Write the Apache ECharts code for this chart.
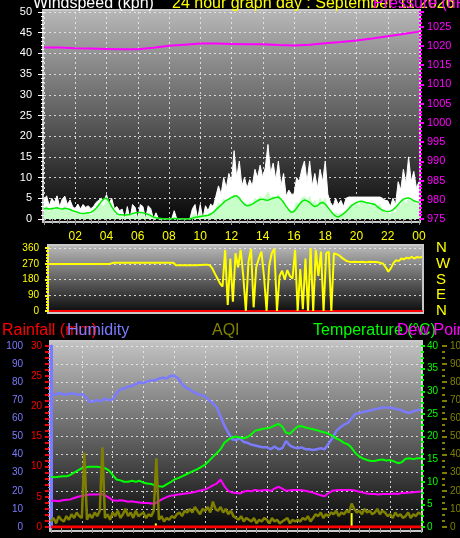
<!DOCTYPE html>
<html><head><meta charset="utf-8">
<script src="https://cdn.jsdelivr.net/npm/echarts@6/dist/echarts.min.js"></script>
<style>html,body{margin:0;padding:0;background:#000;overflow:hidden}#c{width:460px;height:538px}</style>
</head><body><div id="c"></div>
<script>
// ---------- DATA ----------
// hour tick labels (for x = 0,2,...,24)
const hourLabels = ['00','02','04','06','08','10','12','14','16','18','20','22','00'];
// wind direction tick labels
const dirTicks = [0, 90, 180, 270, 360];
const dirLetters = ['N', 'E', 'S', 'W', 'N'];

// Wind gust (kph), every 10 minutes, 00:00 -> 24:00
const windGust = [
  4.5, 5.6, 3.2, 5.0, 4.0, 5.6,
  3.0, 4.8, 5.5, 3.5, 4.6, 3.0,
  2.5, 3.6, 2.4, 3.5, 2.8, 3.2,
  2.5, 3.0, 4.0, 4.5, 5.0, 4.3,
  5.9, 3.8, 5.0, 2.5, 3.0, 2.0,
  2.4, 0, 3.0, 0, 3.5, 2.8,
  0, 3.5, 3.0, 0, 3.2, 2.5,
  0, 1.5, 0, 0, 0, 0,
  0, 0, 2.0, 0, 0, 0,
  0, 0, 0, 2.5, 3.5, 0,
  3.5, 0, 3.2, 2.0, 3.6, 3.0,
  5.5, 8.0, 6.0, 10.0, 7.5, 11.0,
  9.0, 16.5, 10.0, 14.0, 8.0, 10.0,
  7.5, 9.5, 8.0, 12.0, 10.0, 13.0,
  10.0, 12.5, 18.0, 11.0, 13.5, 9.5,
  14.0, 8.0, 11.0, 5.5, 7.0, 6.0,
  6.0, 10.0, 9.0, 12.0, 14.0, 9.0,
  14.0, 8.0, 11.0, 7.5, 12.0, 9.0,
  14.0, 6.0, 4.0, 3.0, 5.0, 3.5,
  4.5, 3.0, 5.0, 5.3, 5.3, 5.3,
  5.3, 5.3, 5.3, 5.3, 5.3, 5.3,
  5.3, 5.3, 5.3, 5.3, 5.0, 4.5,
  4.4, 3.0, 5.0, 3.5, 9.0, 7.0,
  12.0, 8.5, 15.0, 9.0, 11.5, 7.5,
  9.0
];
// Wind speed (kph), every 10 minutes
const windSpeed = [
  2.5, 3.1, 1.5, 2.8, 2.0, 3.0,
  1.8, 2.5, 3.0, 2.0, 2.6, 1.5,
  1.2, 2.0, 0.8, 1.8, 1.2, 1.5,
  1.0, 1.5, 2.5, 3.0, 3.5, 3.0,
  4.5, 3.5, 3.0, 1.0, 1.2, 0.5,
  0.8, 0, 1.5, 0, 1.6, 1.0,
  0, 1.5, 1.2, 0, 1.5, 1.0,
  0, 0.5, 0, 0, 0, 0,
  0, 0, 0.5, 0, 0, 0,
  0, 0, 0, 1.0, 1.2, 0,
  1.5, 0, 1.0, 0.8, 1.5, 1.2,
  2.5, 4.0, 3.0, 5.0, 3.5, 5.0,
  4.5, 6.0, 5.0, 5.5, 3.5, 4.0,
  3.0, 4.0, 3.5, 5.0, 4.5, 5.5,
  4.5, 5.5, 6.5, 5.0, 5.5, 4.5,
  6.0, 4.0, 4.5, 2.0, 2.5, 1.5,
  2.5, 4.0, 3.5, 5.0, 5.5, 4.0,
  5.5, 3.5, 4.5, 3.0, 5.0, 4.0,
  5.0, 2.0, 1.5, 0.8, 1.5, 1.0,
  1.5, 1.0, 2.0, 2.5, 3.5, 3.0,
  4.0, 3.0, 4.5, 3.5, 4.0, 3.0,
  3.5, 4.0, 3.0, 3.5, 2.0, 1.5,
  1.5, 1.0, 2.0, 1.2, 3.5, 3.0,
  4.5, 3.5, 5.0, 4.0, 4.5, 3.5,
  4.0
];
// Average wind speed (kph), every 10 minutes
const windAvg = [
  2.5, 2.6, 2.4, 2.5, 2.6, 2.7,
  2.5, 2.4, 2.6, 2.5, 2.3, 2.0,
  1.8, 1.6, 1.4, 1.3, 1.4, 1.5,
  1.6, 2.0, 2.6, 3.4, 4.2, 4.9,
  5.0, 4.2, 3.0, 2.0, 1.3, 1.0,
  1.0, 0.9, 1.0, 1.1, 1.3, 1.5,
  1.5, 1.6, 1.5, 1.3, 1.1, 0.8,
  0.5, 0.3, 0.2, 0.1, 0, 0,
  0, 0, 0.1, 0.1, 0, 0,
  0, 0, 0, 0.2, 0.4, 0.5,
  0.6, 0.7, 0.8, 0.9, 1.2, 1.6,
  2.2, 2.8, 3.4, 4.0, 4.5, 4.8,
  5.2, 5.5, 5.6, 5.0, 4.2, 3.5,
  3.2, 3.3, 3.6, 4.0, 4.4, 4.7,
  4.8, 4.6, 4.5, 4.8, 5.0, 5.2,
  5.3, 4.8, 4.0, 3.0, 2.2, 1.6,
  1.8, 2.6, 3.5, 4.2, 4.6, 4.4,
  4.0, 3.4, 3.0, 3.2, 3.8, 4.0,
  3.6, 2.8, 2.0, 1.2, 0.7, 0.5,
  0.8, 1.3, 1.8, 2.5, 3.2, 3.6,
  4.0, 4.2, 4.3, 4.1, 3.9, 3.8,
  3.7, 3.5, 3.0, 2.5, 2.1, 1.9,
  1.8, 1.9, 2.2, 2.8, 3.5, 4.2,
  4.8, 5.0, 5.1, 4.8, 4.4, 4.2,
  4.0
];
// Pressure (hPa), hourly
const pressure = [
  1019.6, 1019.6, 1019.4, 1019.3, 1019.2, 1019.1, 1019.1, 1019.5,
  1020.0, 1020.3, 1020.6, 1020.6, 1020.5, 1020.4, 1020.4, 1020.2,
  1020.1, 1020.3, 1020.7, 1021.0, 1021.4, 1021.9, 1022.5, 1023.1, 1023.7
];
// Wind direction (degrees), every 10 minutes
const windDir = [
  268, 268, 268, 268, 268, 268,
  268, 268, 268, 268, 268, 268,
  268, 268, 268, 268, 268, 268,
  268, 268, 268, 268, 268, 268,
  272, 276, 276, 276, 276, 276,
  276, 276, 276, 276, 276, 276,
  276, 276, 276, 276, 276, 276,
  276, 276, 276, 276, 276, 276,
  276, 262, 262, 262, 262, 262,
  262, 262, 262, 262, 263, 263,
  264, 265, 262, 245, 215, 187,
  158, 140, 349, 34, 300, 53,
  330, 250, 350, 200, 0, 280,
  355, 21, 250, 300, 340, 200,
  0, 260, 330, 355, 0, 200,
  230, 180, 234, 200, 185, 350,
  0, 240, 10, 300, 0, 360,
  0, 350, 200, 340, 0, 330,
  340, 0, 330, 325, 318, 305,
  295, 285, 282, 280, 282, 280,
  280, 281, 279, 280, 282, 280,
  280, 278, 275, 270, 250, 225,
  245, 275, 290, 285, 300, 295,
  305, 300, 310, 300, 308, 305,
  310
];
// Humidity (%), every 15 minutes
const humidity = [
  74, 73, 74, 73.5,   73, 74, 73.5, 73,   73.5, 72, 69, 69.5,   70, 69.5, 71, 70,
  70.5, 74, 76, 76.5, 77.5, 78, 79, 80,   79.5, 80.5, 81, 81,   82, 82.5, 82, 83.5,
  83.5, 82, 79, 77,   76, 74.5, 73.5, 73, 72, 70, 68.5, 66,     61, 56, 52, 48.5,
  48, 49, 47, 46.5,   45.5, 45, 44.5, 44, 44, 43, 44.5, 43,     43.5, 47.5, 45, 44,
  43.5, 44, 43, 43,   42.5, 43, 43.5, 43, 46, 49, 53, 55,       56.5, 57.5, 60, 62.5,
  63, 63.5, 64, 64.5, 65, 65.5, 66, 66,   66, 65.5, 65, 64.5,   63.5, 63, 64, 64.5,
  65
];
// Temperature (°C), every 15 minutes
const temperature = [
  11.1, 11.0, 11.1, 11.2,  11.2, 11.5, 12.0, 12.5,  13.0, 13.2, 13.3, 13.3,  13.3, 13.2, 13.0, 12.5,
  11.5, 10.5, 10.3, 10.0,  10.0, 10.2, 10.0, 10.2,  9.8, 9.6, 9.5, 9.2,      9.0, 8.9, 9.4, 9.9,
  10.5, 10.8, 11.2, 11.6,  12.0, 12.4, 12.8, 13.3,  13.8, 14.6, 15.5, 16.3,  17.2, 18.6, 19.3, 19.8,
  20.0, 19.8, 19.6, 19.9,  20.5, 21.3, 21.5, 21.7,  21.8, 22.0, 22.4, 22.8,  22.2, 20.8, 20.6, 21.5,
  22.2, 22.3, 22.0, 21.8,  21.6, 21.4, 21.1, 20.9,  20.6, 20.2, 19.6, 19.2,  18.6, 18.3, 17.5, 16.3,
  15.6, 15.1, 14.8, 14.6,  14.6, 14.8, 14.9, 14.7,  14.8, 14.5, 14.1, 14.3,  15.1, 15.2, 15.0, 15.2,
  15.2
];
// Dew point (°C), every 15 minutes
const dewPoint = [
  5.8, 5.8, 5.7, 5.9,  6.0, 6.1, 6.4, 6.7,  6.9, 7.0, 7.2, 7.2,  7.2, 7.3, 7.0, 6.5,
  5.9, 5.8, 5.9, 5.8,  5.6, 5.7, 5.5, 5.4,  5.3, 5.3, 5.2, 5.2,  5.7, 6.2, 6.6, 6.9,
  7.0, 7.2, 7.3, 7.4,  7.5, 7.7, 7.9, 8.1,  8.3, 8.7, 9.2, 9.6,  10.5, 9.0, 8.0, 7.6,
  7.5, 7.4, 7.8, 8.0,  7.9, 8.2, 8.0, 8.1,  8.2, 8.0, 8.5, 8.9,  8.5, 8.0, 8.1, 8.2,
  8.2, 8.1, 8.0, 7.8,  7.6, 7.3, 7.0, 6.8,  7.5, 8.0, 8.1, 8.2,  8.2, 8.2, 8.2, 8.0,
  7.8, 7.6, 7.4, 7.3,  7.3, 7.2, 7.3, 7.3,  7.3, 7.4, 7.3, 7.5,  7.5, 7.6, 7.7, 7.8,
  7.8
];
// AQI, every 10 minutes
const aqi = [
  3, 5, 2, 6, 4, 3,
  6, 4, 7, 5, 8, 6,
  5, 41, 4, 7, 5, 8,
  6, 9, 44, 5, 7, 4,
  8, 6, 9, 5, 7, 10,
  6, 8, 5, 9, 6, 7,
  8, 5, 7, 6, 9, 38,
  4, 6, 3, 5, 4, 6,
  5, 7, 8, 6, 9, 8,
  10, 8, 11, 9, 7, 10,
  9, 11, 8, 14, 10, 9,
  11, 8, 10, 7, 9, 6,
  5, 4, 6, 3, 5, 4,
  3, 5, 2, 4, 3, 5,
  4, 2, 5, 3, 4, 2,
  3, 4, 5, 2, 4, 3,
  4, 3, 5, 4, 6, 3,
  5, 7, 6, 8, 5, 7,
  6, 8, 7, 9, 6, 8,
  7, 9, 8, 13, 10, 8,
  9, 7, 10, 8, 9, 7,
  8, 10, 7, 9, 8, 6,
  7, 5, 8, 6, 7, 5,
  6, 8, 5, 7, 6, 8,
  7
];
// Rainfall (mm), hourly
const rainfall = [0,0,0,0,0,0,0,0,0,0,0,0,0,0,0,0,0,0,0,0,0,0,0,0,0];
// Short yellow rain marks
const rainMarkHours = [6.8, 19.5];
const rainMarkValues = [0.6, 2.3];

// ---------- CHART ----------
const FONT = '"Liberation Sans", Arial, sans-serif';
const P = (arr, perHour) => arr.map((v, i) => [i / perHour, v]);
const grad = (c0, c1) => new echarts.graphic.LinearGradient(0, 0, 0, 1, [{offset: 0, color: c0}, {offset: 1, color: c1}]);
const dash = {color: 'rgba(235,235,235,0.85)', width: 1, type: [2, 3]};
const plain = v => String(v);
const txt = (x, y, text, color) => ({type: 'text', x: x, y: y, z: 100,
  style: {text: text, fill: color, font: '16px ' + FONT, verticalAlign: 'middle', textVerticalAlign: 'middle'}});

const chart = echarts.init(document.getElementById('c'), null, {renderer: 'canvas'});
chart.setOption({
  backgroundColor: '#000',
  animation: false,
  textStyle: {fontFamily: FONT},
  graphic: [
    {type: 'rect', z: -10, shape: {x: 43, y: 10, width: 377, height: 212},
     style: {fill: grad('#b8b8b8', '#050505'), stroke: '#c8c8c8', lineWidth: 2}},
    {type: 'rect', z: -10, shape: {x: 48, y: 245, width: 375, height: 68},
     style: {fill: grad('#bdbdbd', '#070707'), stroke: '#c8c8c8', lineWidth: 2}},
    {type: 'rect', z: -10, shape: {x: 50, y: 341, width: 372, height: 190},
     style: {fill: grad('#c4c4c4', '#040404'), stroke: '#c8c8c8', lineWidth: 2}},
    txt(33, 4, 'Windspeed (kph)', '#ffffff'),
    txt(172, 4, '24 hour graph day : September 11 2026', '#ffff00'),
    txt(373, 4, 'Pressure (hPa)', '#ff00ff'),
    txt(2, 331, 'Rainfall (mm)', '#ff0000'),
    txt(67, 331, 'Humidity', '#7b7bff'),
    txt(212, 331, 'AQI', '#808000'),
    txt(313, 331, 'Temperature (°C)', '#00ff00'),
    txt(397, 331, 'Dew Point', '#ff00ff')
  ],
  grid: [
    {left: 44, top: 12, width: 375, height: 207, outerBoundsMode: 'none', containLabel: false},
    {left: 49, top: 248, width: 373, height: 63, outerBoundsMode: 'none', containLabel: false},
    {left: 51, top: 346, width: 370, height: 181, outerBoundsMode: 'none', containLabel: false}
  ],
  xAxis: [
    {gridIndex: 0, type: 'value', min: 0, max: 24, interval: 2,
     axisLine: {show: false},
     axisTick: {show: true, length: 6, lineStyle: {color: '#9a9a9a'}},
     minorTick: {show: true, splitNumber: 4, length: 5, lineStyle: {color: '#9a9a9a'}},
     splitLine: {show: true, lineStyle: dash},
     axisLabel: {color: '#ffff00', fontSize: 12, margin: 12, showMinLabel: false,
                 formatter: v => hourLabels[Math.round(v / 2)]}},
    {gridIndex: 1, type: 'value', min: 0, max: 24, interval: 2,
     axisLine: {show: true, onZero: false, lineStyle: {color: '#ff0000', width: 2}},
     axisTick: {show: false}, axisLabel: {show: false}, splitLine: {show: false}},
    {gridIndex: 2, type: 'value', min: 0, max: 24, interval: 2,
     axisLine: {show: false},
     axisTick: {show: true, length: 6, lineStyle: {color: '#9a9a9a'}},
     minorTick: {show: true, splitNumber: 3, length: 6, lineStyle: {color: '#9a9a9a'}},
     splitLine: {show: true, lineStyle: dash},
     axisLabel: {show: false}}
  ],
  yAxis: [
    {gridIndex: 0, type: 'value', min: 0, max: 50, interval: 5, offset: 2,
     axisLine: {show: false},
     axisTick: {show: true, length: 6, lineStyle: {color: '#ffffff'}},
     minorTick: {show: true, splitNumber: 5, length: 3, lineStyle: {color: '#ffffff'}},
     axisLabel: {color: '#ffffff', fontSize: 11, margin: 10, formatter: plain},
     splitLine: {show: true, lineStyle: dash}},
    {gridIndex: 0, type: 'value', position: 'right', min: 975, max: 1028.8, interval: 5,
     axisLine: {show: false},
     axisTick: {show: true, length: 5, lineStyle: {color: '#ff00ff', width: 2}},
     minorTick: {show: true, splitNumber: 5, length: 3, lineStyle: {color: '#ff00ff', width: 2}},
     axisLabel: {color: '#ff00ff', fontSize: 11, margin: 8, showMaxLabel: false, formatter: plain},
     splitLine: {show: false}},
    {gridIndex: 1, type: 'value', min: 0, max: 360, interval: 90, offset: 2,
     axisLine: {show: false},
     axisTick: {show: true, length: 4, lineStyle: {color: '#ffff00', width: 2}},
     minorTick: {show: true, splitNumber: 5, length: 3, lineStyle: {color: '#ffff00', width: 2}},
     axisLabel: {color: '#ffff00', fontSize: 10, margin: 8, formatter: plain},
     splitLine: {show: true, lineStyle: dash}},
    {gridIndex: 1, type: 'value', position: 'right', min: 0, max: 360, interval: 90,
     axisLine: {show: false}, axisTick: {show: false}, splitLine: {show: false},
     axisLabel: {color: '#ffff00', fontSize: 15, margin: 14,
                 formatter: v => dirLetters[dirTicks.indexOf(v)] || ''}},
    {gridIndex: 2, type: 'value', position: 'left', offset: 20, min: 0, max: 100, interval: 10,
     axisLine: {show: true, lineStyle: {color: '#7b7bff', width: 3}},
     axisTick: {show: true, length: 4, lineStyle: {color: '#7b7bff', width: 2}},
     minorTick: {show: true, splitNumber: 5, length: 3, lineStyle: {color: '#7b7bff', width: 1}},
     axisLabel: {color: '#7b7bff', fontSize: 10, margin: 8, formatter: plain},
     splitLine: {show: true, lineStyle: dash}},
    {gridIndex: 2, type: 'value', position: 'left', offset: 2, min: 0, max: 30, interval: 5,
     axisLine: {show: false},
     axisTick: {show: true, length: 4, lineStyle: {color: '#ff0000', width: 2}},
     minorTick: {show: true, splitNumber: 5, length: 4, lineStyle: {color: '#ff0000', width: 2}},
     axisLabel: {color: '#ff0000', fontSize: 10, margin: 7, formatter: plain},
     splitLine: {show: false}},
    {gridIndex: 2, type: 'value', position: 'right', offset: 0, min: 0, max: 40, interval: 5,
     axisLine: {show: false},
     axisTick: {show: true, length: 4, lineStyle: {color: '#00ff00', width: 2}},
     minorTick: {show: true, splitNumber: 4, length: 3, lineStyle: {color: '#00ff00', width: 2}},
     axisLabel: {color: '#00ff00', fontSize: 10, margin: 6, formatter: plain},
     splitLine: {show: false}},
    {gridIndex: 2, type: 'value', position: 'right', offset: 21, min: 0, max: 100, interval: 10,
     axisLine: {show: false},
     axisTick: {show: true, length: 5, lineStyle: {color: '#808000', width: 2}},
     minorTick: {show: true, splitNumber: 3, length: 3, lineStyle: {color: '#808000', width: 2}},
     axisLabel: {color: '#808000', fontSize: 10, margin: 8, formatter: plain},
     splitLine: {show: false}}
  ],
  series: [
    {name: 'Gust', type: 'line', xAxisIndex: 0, yAxisIndex: 0, data: P(windGust, 6),
     showSymbol: false, lineStyle: {color: '#ffffff', width: 1}, areaStyle: {color: '#ffffff', opacity: 1}},
    {name: 'Speed', type: 'line', xAxisIndex: 0, yAxisIndex: 0, data: P(windSpeed, 6),
     showSymbol: false, lineStyle: {color: '#c8ffc8', width: 1}, areaStyle: {color: '#c8ffc8', opacity: 1}},
    {name: 'Average', type: 'line', xAxisIndex: 0, yAxisIndex: 0, data: P(windAvg, 6),
     showSymbol: false, lineStyle: {color: '#00ee00', width: 1.5}},
    {name: 'Pressure', type: 'line', xAxisIndex: 0, yAxisIndex: 1, data: P(pressure, 1),
     showSymbol: false, lineStyle: {color: '#ff00ff', width: 2}},
    {name: 'Direction', type: 'line', xAxisIndex: 1, yAxisIndex: 2, data: P(windDir, 6),
     showSymbol: false, lineStyle: {color: '#ffff00', width: 2}},
    {name: 'Humidity', type: 'line', xAxisIndex: 2, yAxisIndex: 4, data: P(humidity, 4),
     showSymbol: false, lineStyle: {color: '#7b7bff', width: 2.5}},
    {name: 'Temperature', type: 'line', xAxisIndex: 2, yAxisIndex: 6, data: P(temperature, 4),
     showSymbol: false, lineStyle: {color: '#00ff00', width: 2}},
    {name: 'Dew Point', type: 'line', xAxisIndex: 2, yAxisIndex: 6, data: P(dewPoint, 4),
     showSymbol: false, lineStyle: {color: '#ff00ff', width: 2}},
    {name: 'AQI', type: 'line', xAxisIndex: 2, yAxisIndex: 7, data: P(aqi, 6),
     showSymbol: false, lineStyle: {color: '#808000', width: 2.5}},
    {name: 'Rainfall', type: 'line', xAxisIndex: 2, yAxisIndex: 5, data: P(rainfall, 1),
     showSymbol: false, lineStyle: {color: '#ff0000', width: 3}},
    {name: 'Rain marks', type: 'bar', xAxisIndex: 2, yAxisIndex: 5,
     data: rainMarkHours.map((h, i) => [h, rainMarkValues[i]]),
     barWidth: 2, itemStyle: {color: '#ffff00'}}
  ]
});
</script></body></html>
